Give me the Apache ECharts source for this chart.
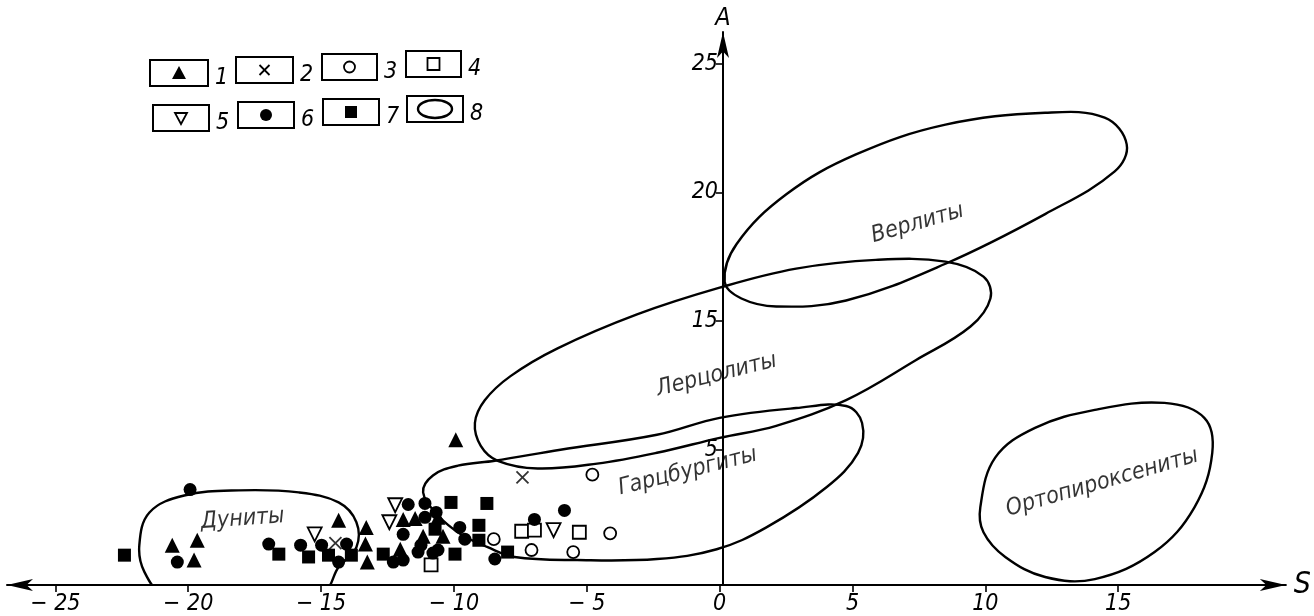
<!DOCTYPE html>
<html><head><meta charset="utf-8">
<script src="https://cdn.jsdelivr.net/npm/echarts@6/dist/echarts.min.js"></script>
<style>html,body{margin:0;padding:0;background:#fff}#c{width:1314px;height:616px}</style>
</head><body><div id="c"></div>
<script>
// ---- tick labels ----
const xTickValues = [-25,-20,-15,-10,-5,0,5,10,15];
const xTickLabels = ['− 25','− 20','− 15','− 10','− 5','0','5','10','15'];
const yTickValues = [10,15,20,25];
const yTickLabels = ['5','15','20','25'];
const legendLabels = ['1','2','3','4','5','6','7','8'];

// ---- point series (S, A) ----
const s1Triangle = [[-20.60,6.29],[-19.66,6.48],[-19.78,5.71],[-14.34,7.26],[-13.30,6.98],[-13.33,6.33],[-13.26,5.63],[-11.91,7.29],[-11.46,7.33],[-10.60,7.37],[-11.16,6.64],[-10.41,6.64],[-12.02,6.13],[-9.93,10.39]];
const s2Cross = [[-14.46,6.37],[-7.42,8.92]];
const s3Circle = [[-4.79,9.03],[-4.12,6.75],[-8.50,6.52],[-7.08,6.10],[-5.51,6.02]];
const s4Square = [[-7.45,6.83],[-6.97,6.87],[-5.28,6.79],[-10.86,5.52]];
const s5TriDown = [[-15.24,6.71],[-12.21,7.84],[-12.43,7.18],[-6.25,6.87]];
const s6Dot = [[-19.93,8.45],[-20.41,5.63],[-16.97,6.33],[-15.77,6.29],[-14.98,6.29],[-14.04,6.33],[-14.34,5.63],[-11.72,7.87],[-11.09,7.91],[-10.67,7.56],[-11.09,7.37],[-11.91,6.71],[-11.24,6.29],[-10.60,6.10],[-11.35,6.02],[-11.91,5.71],[-9.78,6.98],[-9.59,6.52],[-10.79,5.98],[-5.84,7.64],[-6.97,7.29],[-8.46,5.75],[-12.28,5.63]];
const s7Box = [[-22.40,5.90],[-16.59,5.94],[-15.47,5.83],[-14.72,5.90],[-13.86,5.90],[-12.66,5.94],[-10.71,6.91],[-10.11,7.95],[-8.76,7.91],[-9.06,7.06],[-9.06,6.48],[-9.96,5.94],[-7.98,6.02]];

// ---- region outlines (S, A) ----
const verlity = [[0.19,16.53],[0.64,18.0],[2.51,19.93],[5.13,21.48],[8.50,22.64],[12.25,23.10],[14.49,22.91],[15.32,21.87],[14.87,20.82],[12.25,19.16],[8.50,17.23],[4.76,15.80],[2.13,15.57],[0.82,15.88]];
const lercolity = [[-9.21,11.04],[-8.84,11.92],[-7.87,12.86],[-6.10,13.94],[-3.11,15.26],[0,16.30],[2.88,17.04],[5.88,17.38],[8.50,17.31],[9.93,16.73],[10.19,15.88],[9.44,14.79],[7.38,13.48],[4.76,11.93],[2.13,10.93],[0,10.46],[-2.36,9.88],[-4.61,9.46],[-6.85,9.27],[-8.35,9.57],[-8.99,10.15]];
const garcburgity = [[-11.16,8.34],[-10.79,9.0],[-9.85,9.38],[-8.46,9.57],[-5.99,10.0],[-2.36,10.58],[0,11.24],[2.88,11.62],[4.76,11.70],[5.36,11.04],[5.21,9.88],[4.01,8.53],[1.76,6.98],[-0.11,6.13],[-2.36,5.75],[-5.36,5.71],[-7.72,5.83],[-8.73,6.21],[-9.74,6.71],[-10.60,7.45]];
const ortopiroksenity = [[9.81,7.76],[10.37,9.69],[11.87,10.85],[14.12,11.55],[16.74,11.82],[18.24,11.24],[18.54,9.88],[17.87,7.76],[16.37,6.02],[14.12,4.97],[12.25,5.05],[10.75,5.83],[9.93,6.79]];
const dunity = [[-21.84,6.29],[-21.46,7.56],[-20.15,8.22],[-18.09,8.42],[-15.84,8.34],[-14.34,7.95],[-13.67,7.18],[-13.67,6.21],[-14.34,5.44],[-14.91,4.47],[-17.72,3.70],[-20.90,4.36],[-21.65,5.25]];

const regionNames = ['Верлиты','Лерцолиты','Гарцбургиты','Дуниты','Ортопироксениты'];
const regionLabelAt = [[7.45,18.80],[-0.11,12.90],[-1.20,9.15],[-17.95,7.30],[14.40,8.72]];
const regionLabelRot = [16,14,14,4,16];

const FONT = "'Liberation Sans Narrow','DejaVu Sans Condensed',sans-serif";

function region(name, pts){
  return {
    type:'custom', name:name, coordinateSystem:'cartesian2d', clip:true, silent:true, z:1,
    data: pts,
    renderItem: function(params, api){
      if (params.dataIndex !== 0) return null;
      const p = pts.map(d => api.coord(d));
      return {type:'polygon', shape:{points:p, smooth:0.38},
              style:{fill:'none', stroke:'#000', lineWidth:2.4}};
    }
  };
}

function pts(name, data, symbol, size, fill, extra){
  return Object.assign({
    type:'scatter', name:name, data:data, symbol:symbol, symbolSize:size, z:3,
    itemStyle:{color:fill, borderColor:'#000', borderWidth: fill==='#000'?0:1.8, opacity:1}
  }, extra||{});
}

// ---- legend (graphic) ----
const legendBoxes = [[150,60,58,26],[236,57,57,26],[322,54,55,26],[406,51,55,26],[153,105,56,26],[238,102,56,26],[323,99,56,26],[407,96,56,26]];
const graphic = [];
legendBoxes.forEach((b,i)=>{
  const cx = b[0]+b[2]/2, cy = b[1]+b[3]/2;
  graphic.push({type:'rect', shape:{x:b[0],y:b[1],width:b[2],height:b[3]}, style:{fill:'none',stroke:'#000',lineWidth:2}});
  let s;
  switch(i){
    case 0: s={type:'polygon',shape:{points:[[cx,cy-7],[cx+7,cy+6],[cx-7,cy+6]]},style:{fill:'#000'}}; break;
    case 1: s={type:'group',children:[
      {type:'line',shape:{x1:cx-5,y1:cy-5,x2:cx+5,y2:cy+5},style:{stroke:'#000',lineWidth:1.8}},
      {type:'line',shape:{x1:cx+5,y1:cy-5,x2:cx-5,y2:cy+5},style:{stroke:'#000',lineWidth:1.8}}]}; break;
    case 2: s={type:'circle',shape:{cx:cx,cy:cy,r:5.5},style:{fill:'#fff',stroke:'#000',lineWidth:1.8}}; break;
    case 3: s={type:'rect',shape:{x:cx-6,y:cy-6,width:12,height:12},style:{fill:'#fff',stroke:'#000',lineWidth:1.8}}; break;
    case 4: s={type:'polygon',shape:{points:[[cx-6,cy-5],[cx+6,cy-5],[cx,cy+6]]},style:{fill:'#fff',stroke:'#000',lineWidth:1.8}}; break;
    case 5: s={type:'circle',shape:{cx:cx,cy:cy,r:6},style:{fill:'#000'}}; break;
    case 6: s={type:'rect',shape:{x:cx-6,y:cy-6,width:12,height:12},style:{fill:'#000'}}; break;
    case 7: s={type:'ellipse',shape:{cx:cx,cy:cy,rx:17,ry:9},style:{fill:'none',stroke:'#000',lineWidth:2.4}}; break;
  }
  graphic.push(s);
  graphic.push({type:'text', x:b[0]+b[2]+7, y:cy+5, style:{text:legendLabels[i], fontSize:23, fontStyle:'italic', fontFamily:FONT, fill:'#000', verticalAlign:'middle'}});
});

const chart = echarts.init(document.getElementById('c'), null, {renderer:'canvas'});
chart.setOption({
  animation:false,
  backgroundColor:'#fff',
  grid:{left:7, right:22, top:32, bottom:28, containLabel:false},
  xAxis:{
    type:'value', min:-26.82, max:21.31,
    name:'S', nameLocation:'end', nameGap:8,
    nameTextStyle:{fontSize:30, fontStyle:'italic', fontFamily:FONT, color:'#000', verticalAlign:'middle'},
    axisLine:{show:true, onZero:false, symbol:['arrow','arrow'], symbolSize:[9,26], lineStyle:{color:'#000', width:2}},
    axisTick:{show:true, length:7, customValues:xTickValues, lineStyle:{color:'#000', width:1.6}},
    axisLabel:{show:true, customValues:xTickValues, margin:8, fontSize:23, fontStyle:'italic', fontFamily:FONT, color:'#000',
      formatter:function(v){ const i = xTickValues.indexOf(Math.round(v)); return i>=0 ? xTickLabels[i] : ''; }},
    splitLine:{show:false}
  },
  yAxis:{
    type:'value', min:4.74, max:26.24, offset:-716,
    name:'A', nameLocation:'end', nameGap:1,
    nameTextStyle:{fontSize:25, fontStyle:'italic', fontFamily:FONT, color:'#000'},
    axisLine:{show:true, onZero:false, symbol:['none','arrow'], symbolSize:[9,26], lineStyle:{color:'#000', width:2}},
    axisTick:{show:true, length:7, customValues:yTickValues, lineStyle:{color:'#000', width:1.6}},
    axisLabel:{show:true, customValues:yTickValues, margin:5, fontSize:23, fontStyle:'italic', fontFamily:FONT, color:'#000',
      formatter:function(v){ const i = yTickValues.indexOf(Math.round(v)); return i>=0 ? yTickLabels[i] : ''; }},
    splitLine:{show:false}
  },
  graphic: graphic,
  series:[
    region('Верлиты', verlity),
    region('Лерцолиты', lercolity),
    region('Гарцбургиты', garcburgity),
    region('Дуниты', dunity),
    region('Ортопироксениты', ortopiroksenity),
    {type:'scatter', name:'labels', symbolSize:0, silent:true, z:2,
      data: regionNames.map((n,i)=>({value:regionLabelAt[i], name:n,
        label:{show:true, formatter:n, position:'inside', rotate:regionLabelRot[i],
          fontSize:23, fontStyle:'italic', fontFamily:FONT, color:'#000'}}))},
    pts('1', s1Triangle, 'triangle', 15, '#000'),
    pts('2', s2Cross, 'path://M0,0L10,10M10,0L0,10', 12, 'none', {itemStyle:{color:'none', borderColor:'#000', borderWidth:1.8}}),
    pts('3', s3Circle, 'circle', 12, '#fff'),
    pts('4', s4Square, 'rect', 13, '#fff'),
    pts('5', s5TriDown, 'triangle', 14, '#fff', {symbolRotate:180}),
    pts('6', s6Dot, 'circle', 13, '#000'),
    pts('7', s7Box, 'rect', 13, '#000')
  ]
});
</script></body></html>
